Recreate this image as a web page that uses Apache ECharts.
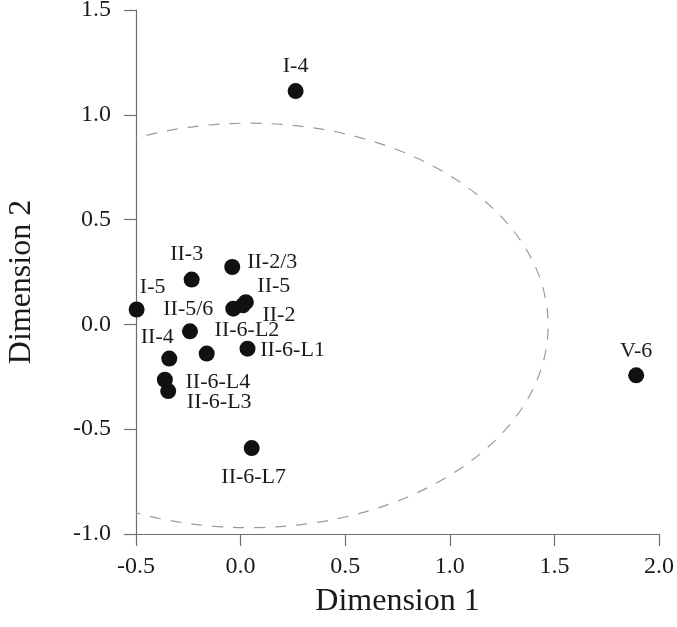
<!DOCTYPE html>
<html>
<head>
<meta charset="utf-8">
<script src="https://cdn.jsdelivr.net/npm/echarts@6/dist/echarts.min.js"></script>
<style>
  html, body { margin: 0; padding: 0; background: #fff; }
  #chart { width: 677px; height: 627px; }
</style>
</head>
<body>
<div id="chart"></div>
<script>
// sample names and their coordinates on the two dimensions
var names = ['I-4', 'V-6', 'II-6-L7', 'I-5', 'II-3', 'II-2/3', 'II-5', 'II-2', 'II-5/6',
  'II-6-L2', '', 'II-4', 'II-6-L1', 'II-6-L4', 'II-6-L3'];
var dim1 = [0.263, 1.891, 0.053, -0.497, -0.234, -0.040, 0.025, 0.011, -0.035,
  -0.242, -0.162, -0.341, 0.033, -0.362, -0.346];
var dim2 = [1.113, -0.243, -0.590, 0.071, 0.214, 0.274, 0.106, 0.091, 0.075,
  -0.033, -0.139, -0.163, -0.116, -0.264, -0.318];

// dashed ellipse: centre and semi-axes in data units
var ellipseCenter = [0.04, -0.005];
var ellipseRadii = [1.43, 0.965];

var xTicks = [-0.5, 0.0, 0.5, 1.0, 1.5, 2.0];
var yTicks = [-1.0, -0.5, 0.0, 0.5, 1.0, 1.5];

// label offsets from the point centre (px)
var labelOffset = {
  'I-4': [0, -25], 'V-6': [0, -24], 'II-6-L7': [2, 29], 'I-5': [16, -22],
  'II-3': [-5, -25], 'II-2/3': [40, -5], 'II-5': [28, -16], 'II-2': [36, 10],
  'II-5/6': [-45, 1], 'II-6-L2': [57, -1], 'II-4': [-12, -21], 'II-6-L1': [45, 2],
  'II-6-L4': [53, 2], 'II-6-L3': [51, 11]
};

var FONT = "'Liberation Serif', 'Times New Roman', serif";

var points = names.map(function (n, i) {
  var off = labelOffset[n] || [0, 0];
  return {
    name: n,
    value: [dim1[i], dim2[i]],
    label: { offset: off }
  };
});

var chart = echarts.init(document.getElementById('chart'));
chart.setOption({
  animation: false,
  grid: { left: 136, right: 18, top: 10, bottom: 93, outerBoundsMode: 'none' },
  xAxis: {
    type: 'value',
    min: xTicks[0], max: xTicks[xTicks.length - 1], interval: 0.5,
    name: 'Dimension 1', nameLocation: 'middle', nameGap: 52,
    nameTextStyle: { fontFamily: FONT, fontSize: 32, color: '#1a1a1a' },
    axisLine: { show: true, onZero: false, lineStyle: { color: '#6e6e6e', width: 1.2 } },
    axisTick: { show: true, length: 12, lineStyle: { color: '#6e6e6e', width: 1.2 } },
    axisLabel: {
      margin: 21, fontFamily: FONT, fontSize: 24, color: '#1a1a1a',
      formatter: function (v) { return v.toFixed(1); }
    },
    splitLine: { show: false }
  },
  yAxis: {
    type: 'value',
    min: yTicks[0], max: yTicks[yTicks.length - 1], interval: 0.5,
    name: 'Dimension 2', nameLocation: 'middle', nameGap: 98, nameRotate: 90,
    nameTextStyle: { fontFamily: FONT, fontSize: 32, color: '#1a1a1a', padding: [0, 20, 0, 0] },
    axisLine: { show: true, onZero: false, lineStyle: { color: '#6e6e6e', width: 1.2 } },
    axisTick: { show: true, length: 12, lineStyle: { color: '#6e6e6e', width: 1.2 } },
    axisLabel: {
      margin: 25, fontFamily: FONT, fontSize: 24, color: '#1a1a1a',
      formatter: function (v) { return v.toFixed(1); }
    },
    splitLine: { show: false }
  },
  series: [
    {
      type: 'custom',
      clip: true,
      silent: true,
      data: [ellipseCenter],
      renderItem: function (params, api) {
        var c = api.coord([api.value(0), api.value(1)]);
        var s = api.size([ellipseRadii[0], ellipseRadii[1]]);
        var cs = params.coordSys;
        return {
          type: 'ellipse',
          shape: { cx: c[0], cy: c[1], rx: s[0], ry: s[1] },
          style: { fill: 'none', stroke: '#9a9a9a', lineWidth: 1.2, lineDash: [11, 10] },
          clipPath: { type: 'rect', shape: { x: cs.x, y: cs.y, width: cs.width, height: cs.height } }
        };
      },
      z: 1
    },
    {
      type: 'scatter',
      symbol: 'circle',
      symbolSize: 16,
      itemStyle: { color: '#111', opacity: 1 },
      label: {
        show: true,
        position: 'inside',
        align: 'center',
        verticalAlign: 'middle',
        formatter: '{b}',
        fontFamily: FONT,
        fontSize: 22,
        color: '#1a1a1a'
      },
      data: points,
      z: 3
    }
  ]
});
</script>
</body>
</html>
